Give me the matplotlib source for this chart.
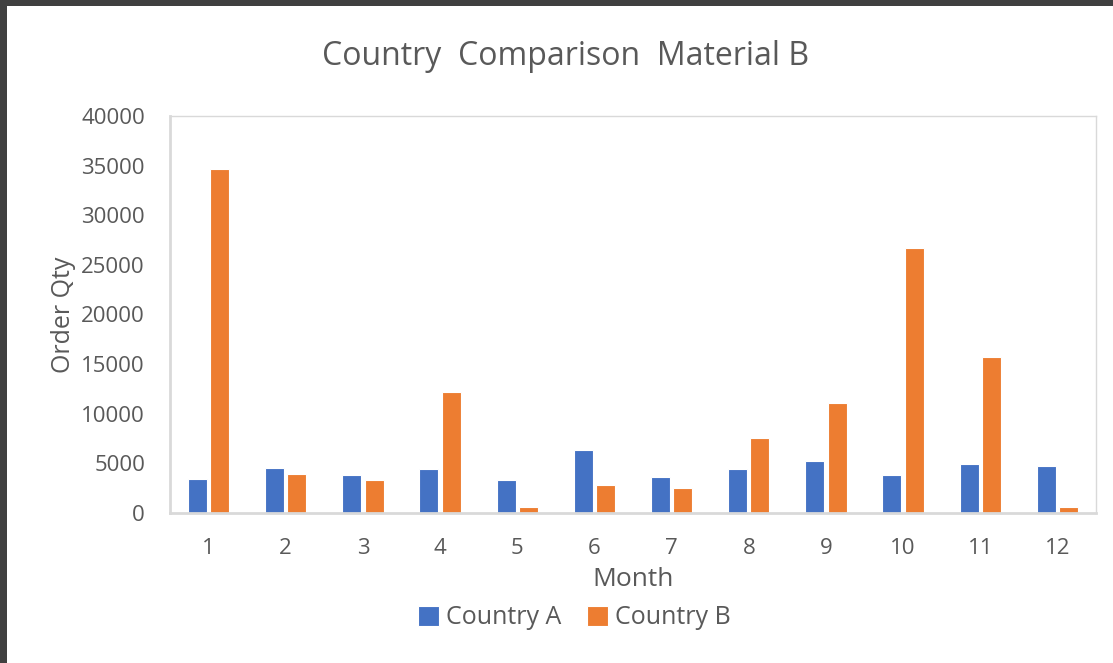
import numpy as np
import matplotlib
matplotlib.use('Agg')
import matplotlib.pyplot as plt
from matplotlib.patches import Rectangle

plt.rcParams['font.family'] = ['Open Sans', 'DejaVu Sans']

# Monthly order quantities, material B
months = list(range(1, 13))
country_a = [3400, 4500, 3800, 4400, 3300, 6300, 3600, 4400, 5200, 3800, 4900, 4700]
country_b = [34700, 3900, 3300, 12200, 600, 2800, 2500, 7600, 11100, 26700, 15700, 600]
series_names = ['Country A', 'Country B']

blue = '#4472c4'
orange = '#ed7d31'
txt = '#595959'
axis_grey = '#d9d9d9'

fig = plt.figure(figsize=(11.13, 6.63), dpi=100)
fig.patch.set_facecolor('white')

# dark window border along top and left edges
fig.patches.append(Rectangle((0, 1 - 6 / 663), 1, 6 / 663, transform=fig.transFigure,
                             facecolor='#404040', edgecolor='none', zorder=0))
fig.patches.append(Rectangle((0, 0), 7 / 1113, 1, transform=fig.transFigure,
                             facecolor='#404040', edgecolor='none', zorder=0))

ax = fig.add_axes([170 / 1113, 1 - 513 / 663, (1096 - 170) / 1113, (513 - 116) / 663])

x = np.arange(len(months))
w = 0.245
off = 0.145
ax.bar(x - off, country_a, width=w, color=blue, edgecolor='white', linewidth=0.8,
       label=series_names[0], zorder=2)
ax.bar(x + off, country_b, width=w, color=orange, edgecolor='white', linewidth=0.8,
       label=series_names[1], zorder=2)

ax.set_xlim(-0.5, len(months) - 0.5)
ax.set_ylim(0, 40000)
ax.set_yticks(np.arange(0, 40001, 5000))
ax.set_xticks(x)
ax.set_xticklabels([str(m) for m in months])
ax.tick_params(length=0, labelsize=16, colors=txt)
ax.tick_params(axis='y', pad=18)
ax.tick_params(axis='x', pad=18)

for side in ['top', 'right']:
    ax.spines[side].set_color(axis_grey)
    ax.spines[side].set_linewidth(1.0)
for side in ['left', 'bottom']:
    ax.spines[side].set_color(axis_grey)
    ax.spines[side].set_linewidth(2.0)

ax.set_xlabel('Month', fontsize=19, color=txt, labelpad=6)
ax.set_ylabel('Order Qty', fontsize=18, color=txt, labelpad=4)

fig.text(0.508, 0.915, 'Country  Comparison  Material B', ha='center', va='center',
         fontsize=23, color=txt)

leg = fig.legend(loc='center', bbox_to_anchor=(0.516, 0.068), ncol=2, frameon=False,
                 fontsize=18, handlelength=0.85, handleheight=0.85, handletextpad=0.3,
                 columnspacing=1.0)
for t in leg.get_texts():
    t.set_color(txt)

fig.savefig('out.png', dpi=100)
